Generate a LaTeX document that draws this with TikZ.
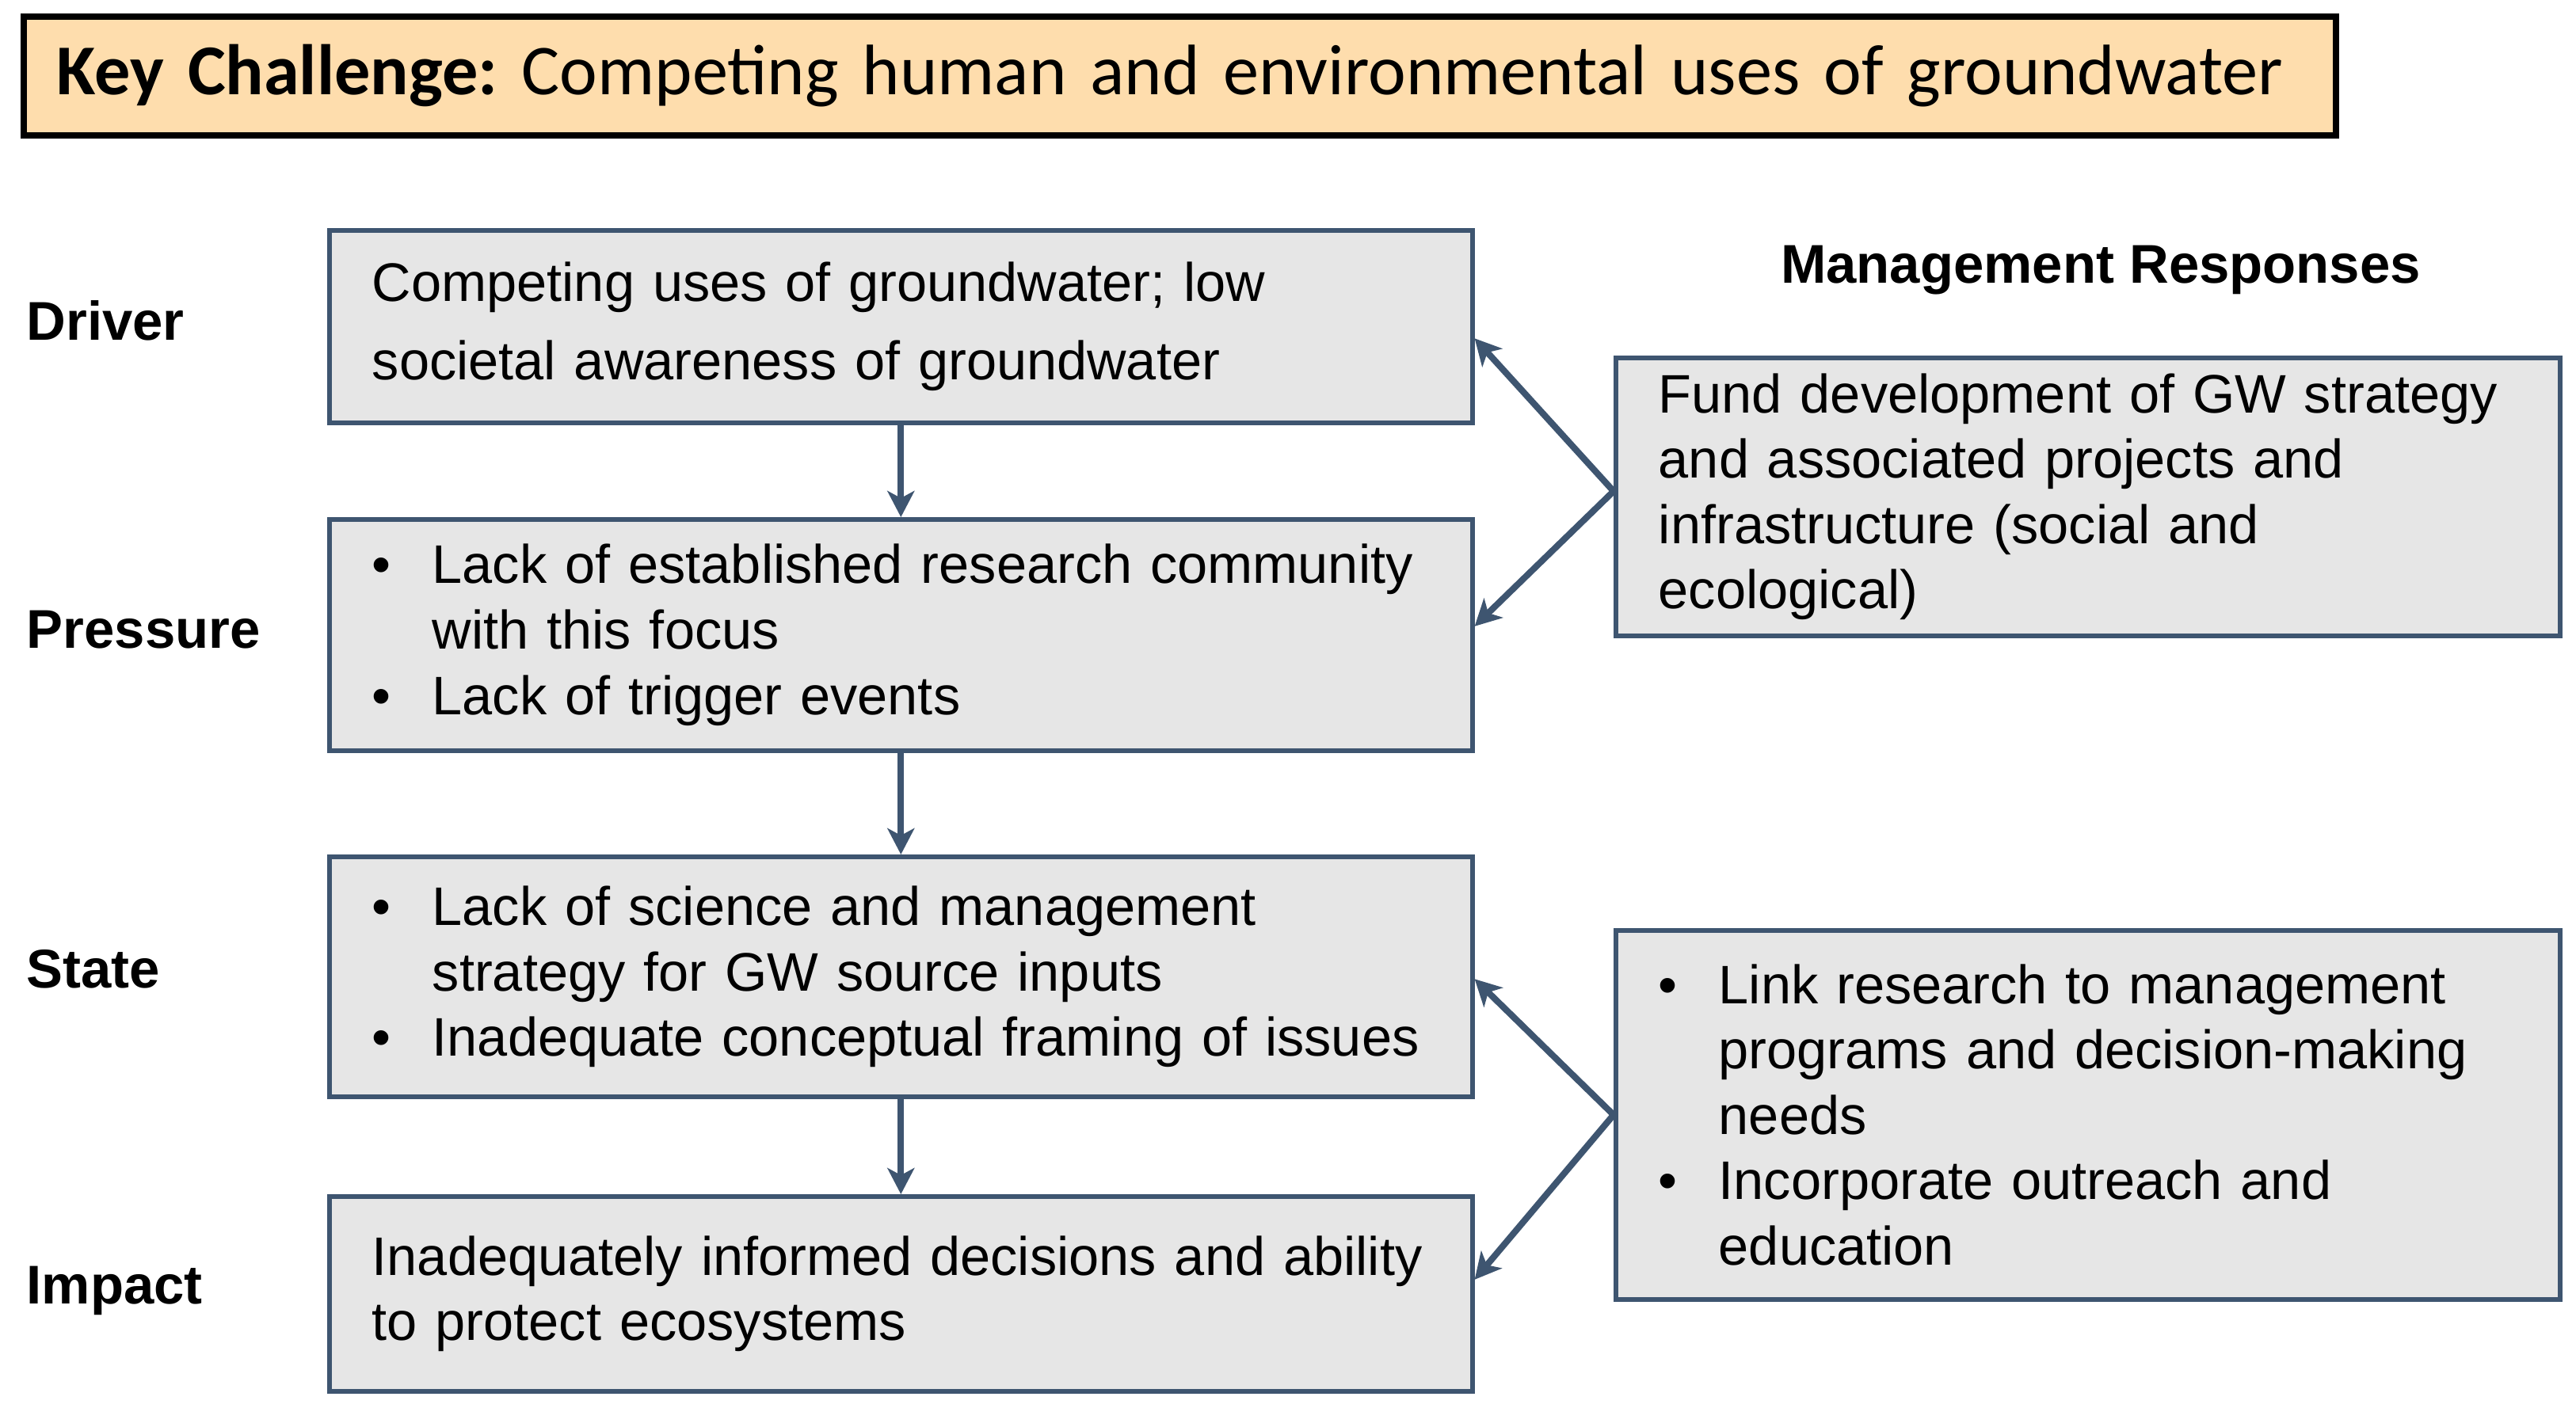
\documentclass[tikz,border=0pt]{standalone}
\usepackage{fontspec}
\setmainfont{Liberation Sans}
\newfontfamily\calibri{Carlito}
\usetikzlibrary{arrows.meta}
\definecolor{bcol}{RGB}{62,85,112}
\definecolor{gfill}{RGB}{230,230,230}
\definecolor{peach}{RGB}{254,221,173}
\newcommand{\lne}[1]{\mbox{#1}}
\newcommand{\bul}[1]{\mbox{\makebox[0.76cm][l]{•}#1}}
\newcommand{\bind}[1]{\mbox{\hspace*{0.76cm}#1}}
\frenchspacing
\tikzset{
  box/.style={draw=bcol, line width=1.6pt, fill=gfill, anchor=north west,
    inner xsep=0.54cm, inner ysep=0pt, align=left,
    font=\fontsize{19.5pt}{23.5pt}\selectfont},
  keybox/.style={draw=black, line width=2.2pt, fill=peach, anchor=north west,
    inner xsep=0.42cm, inner ysep=0pt, align=left,
    font=\calibri\fontsize{25.7pt}{30pt}\selectfont},
  lab/.style={anchor=west, inner sep=0pt, font=\bfseries\fontsize{19.6pt}{23.4pt}\selectfont},
  arr/.style={draw=bcol, line width=2.3pt, -{Stealth[length=0.33cm,width=0.34cm,inset=0.09cm]}}
}
\begin{document}
\begin{tikzpicture}
\useasboundingbox (0,0) rectangle (32.52,-17.77);
% key challenge
\node[keybox, minimum width=29.19cm, minimum height=1.50cm, text width=28.35cm] (key) at (0.26,-0.17)
  {\lne{\textbf{Key Challenge:} Competing human and environmental uses of groundwater}};
% labels
\node[lab] (ldriver) at (0.33,-4.05) {Driver};
\node[lab] (lpress) at (0.33,-7.95) {Pressure};
\node[lab] (lstate) at (0.33,-12.24) {State};
\node[lab] (limpact) at (0.33,-16.30) {Impact};
\node[inner sep=0pt, font=\bfseries\fontsize{19.6pt}{23.4pt}\selectfont] (mrtitle) at (26.52,-3.41) {Management Responses};
% left boxes
\node[box, minimum width=14.43cm, minimum height=2.43cm, text width=13.35cm,
  font=\fontsize{19.5pt}{28.4pt}\selectfont] (driver) at (4.13,-2.88)
  {\lne{Competing uses of groundwater; low}\\\lne{societal awareness of groundwater}};
\node[box, minimum width=14.43cm, minimum height=2.92cm, text width=13.35cm] (pressure) at (4.13,-6.53)
  {\bul{Lack of established research community}\\\bind{with this focus}\\\bul{Lack of trigger events}};
\node[box, minimum width=14.43cm, minimum height=3.03cm, text width=13.35cm] (state) at (4.13,-10.79)
  {\bul{Lack of science and management}\\\bind{strategy for GW source inputs}\\\bul{Inadequate conceptual framing of issues}};
\node[box, minimum width=14.43cm, minimum height=2.46cm, text width=13.35cm] (impact) at (4.13,-15.08)
  {\lne{Inadequately informed decisions and ability}\\\lne{to protect ecosystems}};
% right boxes
\node[box, minimum width=11.92cm, minimum height=3.51cm, text width=10.84cm] (mr1) at (20.37,-4.49)
  {\lne{Fund development of GW strategy}\\\lne{and associated projects and}\\\lne{infrastructure (social and}\\\lne{ecological)}};
\node[box, minimum width=11.92cm, minimum height=4.66cm, text width=10.84cm] (mr2) at (20.37,-11.72)
  {\bul{Link research to management}\\\bind{programs and decision-making}\\\bind{needs}\\\bul{Incorporate outreach and}\\\bind{education}};
% arrows
\draw[arr] (driver.south) -- (pressure.north);
\draw[arr] (pressure.south) -- (state.north);
\draw[arr] (state.south) -- (impact.north);
\draw[arr] ([yshift=0.07cm]mr1.west) -- ([yshift=-0.15cm]driver.east);
\draw[arr] ([yshift=0.07cm]mr1.west) -- ([yshift=0.11cm]pressure.east);
\draw[arr] (mr2.west) -- ([yshift=-0.03cm]state.east);
\draw[arr] (mr2.west) -- ([yshift=0.18cm]impact.east);
\end{tikzpicture}
\end{document}
